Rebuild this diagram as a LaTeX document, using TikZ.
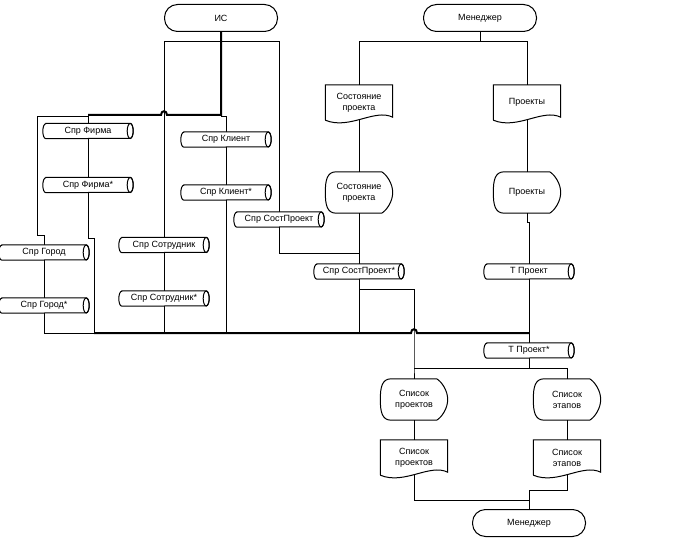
\documentclass[tikz,border=0pt]{standalone}
\usepackage{fontspec}
\setmainfont{Liberation Sans}
\usetikzlibrary{calc}

\tikzset{
  terminal/.style={draw, line width=1pt, rounded corners=13pt, minimum width=113pt, minimum height=27pt, inner sep=0pt},
  store/.style={minimum width=90pt, minimum height=15pt, inner sep=0pt},
  docnode/.style={minimum width=67pt, minimum height=35pt, inner sep=1pt, align=center},
  dispnode/.style={minimum width=67pt, minimum height=41pt, inner sep=1pt, align=center},
  conn/.style={line width=1pt},
  bus/.style={line width=2pt},
}

% outlines drawn round the named nodes
\newcommand{\storeline}[1]{%
  \draw[conn, fill=white] ($(#1.north west)+(3,0)$) -- ($(#1.north east)+(-3,0)$)
    arc[start angle=90, end angle=-90, x radius=3pt, y radius=7.5pt]
    -- ($(#1.south west)+(3,0)$)
    arc[start angle=270, end angle=90, x radius=3pt, y radius=7.5pt] -- cycle;
  \draw[conn] ($(#1.east)+(-3,0)$) ellipse[x radius=3pt, y radius=7.5pt];}
\newcommand{\docline}[1]{%
  \draw[conn] (#1.south west) -- (#1.north west) -- (#1.north east)
    -- ($(#1.south east)+(0,-3)$) .. controls ($(#1.south east)+(-18,-12)$) and ($(#1.south west)+(24,10)$) .. (#1.south west);}
\newcommand{\displine}[1]{%
  \draw[conn] ($(#1.north west)+(11,0)$) -- ($(#1.north east)+(-11,0)$)
    .. controls ($(#1.north east)+(-6,3)$) and ($(#1.east)+(0,-9)$) .. (#1.east)
    .. controls ($(#1.east)+(0,9)$) and ($(#1.south east)+(-6,-3)$) .. ($(#1.south east)+(-11,0)$)
    -- ($(#1.south west)+(11,0)$)
    .. controls ($(#1.south west)+(2,0)$) and ($(#1.west)+(0,13)$) .. (#1.west)
    .. controls ($(#1.west)+(0,-13)$) and ($(#1.north west)+(2,0)$) .. cycle;}

\begin{document}
\begin{tikzpicture}[x=1pt, y=-1pt, every node/.style={font=\fontsize{9}{11}\selectfont}]
  \useasboundingbox (0,0) rectangle (690,548);

  \node[terminal] (is) at (221,18) {ИС};
  \node[terminal] (mgrtop) at (480,18) {Менеджер};
  \node[terminal] (mgrbot) at (529,523) {Менеджер};

  \node[store] (firma) at (88,131) {Спр Фирма};
  \node[store] (firmastar) at (88,185) {Спр Фирма*};
  \node[store] (gorod) at (44,252.5) {Спр Город};
  \node[store] (gorodstar) at (44,305.5) {Спр Город*};
  \node[store] (klient) at (226,139.5) {Спр Клиент};
  \node[store] (klientstar) at (226,192.5) {Спр Клиент*};
  \node[store] (sotr) at (164,245) {Спр Сотрудник};
  \node[store] (sotrstar) at (164,298.5) {Спр Сотрудник*};
  \node[store] (sost) at (279,219.5) {Спр СостПроект};
  \node[store] (soststar) at (359,271.5) {Спр СостПроект*};
  \node[store] (tproj) at (529,271.5) {Т Проект};
  \node[store] (tprojstar) at (529,350.5) {Т Проект*};

  \node[docnode] (docsost) at (359,102.5) {Состояние\\проекта};
  \node[docnode] (docproj) at (527,102.5) {Проекты};
  \node[dispnode] (dispsost) at (359,192.5) {Состояние\\проекта};
  \node[dispnode] (dispproj) at (527,192.5) {Проекты};
  \node[dispnode] (displist) at (414,399.5) {Список\\проектов};
  \node[dispnode] (dispetap) at (567,399.5) {Список\\этапов};
  \node[docnode] (doclist) at (414,457.5) {Список\\проектов};
  \node[docnode] (docetap) at (567,457.5) {Список\\этапов};

  \coordinate (isjoin) at (221,115);
  \coordinate (firmajoin) at (88,115);
  \coordinate (mgrjoin) at (480,42);
  \coordinate (listjoin) at (414,368);
  \coordinate (outjoin) at (529,490);

  % from ИС
  \draw[bus] (is.south) -- (isjoin) -- (167,115) .. controls (167,110) and (161,110) .. (161,115) -- (firmajoin);
  \draw[conn] (firmajoin) -- (firma.north);
  \draw[conn] (firma.south) -- (firmastar.north);
  \draw[conn] (firmastar.south) -- (88,238) -- (94,238) -- (94,333);
  \draw[conn] (88,117) -- (37,117) -- (37,235) -- (44,235) -- (gorod.north);
  \draw[conn] (gorod.south) -- (gorodstar.north);
  \draw[conn] (gorodstar.south) -- (44,333);
  \draw[conn] (221,117) -- (226,117) -- (klient.north);
  \draw[conn] (klient.south) -- (klientstar.north);
  \draw[conn] (klientstar.south) -- (226,333);
  \draw[conn] (sotr.north) -- (164,42) -- (279,42) -- (sost.north);
  \draw[conn] (sotr.south) -- (sotrstar.north);
  \draw[conn] (sotrstar.south) -- (164,333);
  \draw[conn] (sost.south) -- (279,253) -- (359,253);

  % from Менеджер
  \draw[conn] (mgrtop.south) -- (mgrjoin);
  \draw[conn] (docsost.north) -- (359,42) -- (527,42) -- (docproj.north);
  \draw[conn] (docsost.south) -- (dispsost.north);
  \draw[conn] (dispsost.south) -- (soststar.north);
  \draw[conn] (soststar.south) -- (359,333);
  \draw[conn] (docproj.south) -- (dispproj.north);
  \draw[conn] (dispproj.south) -- (527,222) -- (529,222) -- (tproj.north);
  \draw[conn] (tproj.south) -- (tprojstar.north);
  \draw[conn] (tprojstar.south) -- (listjoin -| tprojstar);

  % bus
  \draw[conn] (44,333) -- (94,333);
  \draw[bus] (94,333) -- (411,333) .. controls (411,328) and (417,328) .. (417,333) -- (529,333);

  % to the lists
  \draw[conn] (359,289) -- (414,289) -- (listjoin) -- (displist.north);
  \draw[conn] (listjoin) -| (dispetap.north);
  \draw[conn] (displist.south) -- (doclist.north);
  \draw[conn] (dispetap.south) -- (docetap.north);
  \draw[conn] (doclist.south) -- (414,500) -- (529,500);
  \draw[conn] (docetap.south) |- (outjoin) -- (mgrbot.north);

  % shapes
  \foreach \n in {firma,firmastar,gorod,gorodstar,klient,klientstar,sotr,sotrstar,sost,soststar,tproj,tprojstar}
    {\storeline{\n}};
  \foreach \n in {docsost,docproj,doclist,docetap}
    {\docline{\n}};
  \foreach \n in {dispsost,dispproj,displist,dispetap}
    {\displine{\n}};

  % texts again over the filled stores
  \node[store] at (firma) {Спр Фирма};
  \node[store] at (firmastar) {Спр Фирма*};
  \node[store] at (gorod) {Спр Город};
  \node[store] at (gorodstar) {Спр Город*};
  \node[store] at (klient) {Спр Клиент};
  \node[store] at (klientstar) {Спр Клиент*};
  \node[store] at (sotr) {Спр Сотрудник};
  \node[store] at (sotrstar) {Спр Сотрудник*};
  \node[store] at (sost) {Спр СостПроект};
  \node[store] at (soststar) {Спр СостПроект*};
  \node[store] at (tproj) {Т Проект};
  \node[store] at (tprojstar) {Т Проект*};
\end{tikzpicture}
\end{document}
